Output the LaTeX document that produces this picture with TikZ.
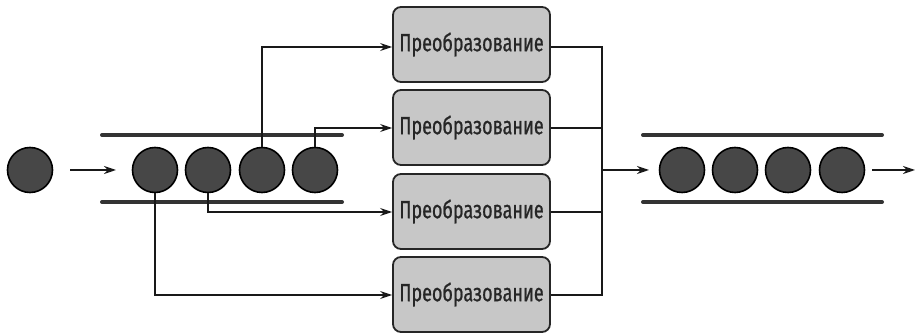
\documentclass[tikz,border=0pt]{standalone}
\usepackage{fontspec}
\newfontfamily\condfont[FakeStretch=0.72,FakeBold=0.8]{Fira Sans}
\usetikzlibrary{arrows.meta}
\begin{document}
\begin{tikzpicture}[x=1pt,y=-1pt,
  ball/.style={circle,draw=black,line width=1.6pt,fill=black!72,minimum size=45pt,inner sep=0pt},
  tbox/.style={rectangle,rounded corners=8pt,draw=black!85,line width=1.8pt,fill=black!22,minimum width=157pt,minimum height=75pt,font=\condfont\fontsize{25}{27}\selectfont,text=black!85},
  bar/.style={line width=4pt,line cap=round,black!80},
  conn/.style={line width=1.6pt,black!90},
  arr/.style={conn,-{Stealth[length=12pt,width=8pt]}}]
\useasboundingbox (0,0) rectangle (916,336);
% input
\node[ball] (in) at (30,170) {};
\coordinate (ia) at (70,170);
\coordinate (ib) at (116,170);
\draw[arr] (ia) -- (ib);
% left queue
\coordinate (lt1) at (102,135); \coordinate (lt2) at (342,135);
\coordinate (lb1) at (102,202); \coordinate (lb2) at (342,202);
\draw[bar] (lt1) -- (lt2);
\draw[bar] (lb1) -- (lb2);
\node[ball] (q1) at (155,170) {};
\node[ball] (q2) at (208,170) {};
\node[ball] (q3) at (262,170) {};
\node[ball] (q4) at (315,170) {};
% boxes
\node[tbox] (b1) at (471.5,44.5) {Преобразование};
\node[tbox] (b2) at (471.5,127.5) {Преобразование};
\node[tbox] (b3) at (471.5,211.5) {Преобразование};
\node[tbox] (b4) at (471.5,294.5) {Преобразование};
% connectors in
\draw[arr] (q3.north) |- (b1.west |- 0,47);
\draw[arr] (q4.north) |- (b2.west |- 0,128);
\draw[arr] (q2.south) |- (b3.west |- 0,212);
\draw[arr] (q1.south) |- (b4.west |- 0,295);
% collector
\coordinate (c1) at (602,47);
\coordinate (c4) at (602,295);
\coordinate (cm) at (602,170);
\draw[conn] (b1.east |- c1) -- (c1) -- (c4) -- (b4.east |- c4);
\draw[conn] (b2.east |- 0,128) -- (602,128);
\draw[conn] (b3.east |- 0,212) -- (602,212);
\coordinate (ca) at (649,170);
\draw[arr] (cm) -- (ca);
% right queue
\coordinate (rt1) at (643,135); \coordinate (rt2) at (882,135);
\coordinate (rb1) at (643,202); \coordinate (rb2) at (882,202);
\draw[bar] (rt1) -- (rt2);
\draw[bar] (rb1) -- (rb2);
\node[ball] (r1) at (682,170) {};
\node[ball] (r2) at (735,170) {};
\node[ball] (r3) at (788,170) {};
\node[ball] (r4) at (842,170) {};
\coordinate (oa) at (872,170);
\coordinate (ob) at (915,170);
\draw[arr] (oa) -- (ob);
\end{tikzpicture}
\end{document}
